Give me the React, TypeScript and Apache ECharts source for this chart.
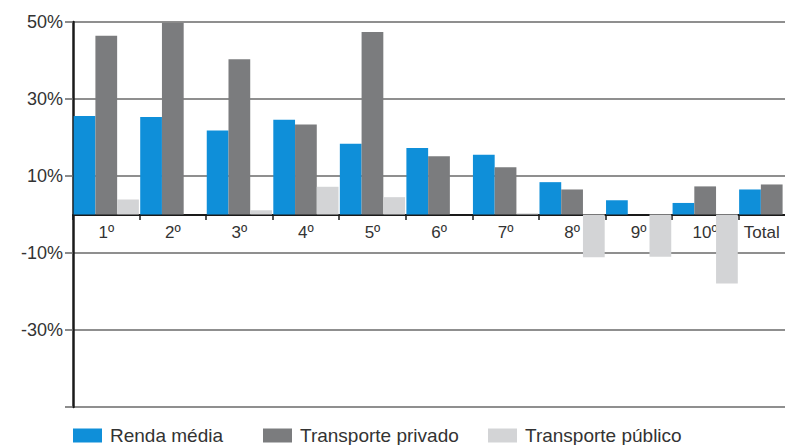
import React, { useEffect, useRef } from "react";
import * as echarts from "echarts";

const categories = ["1º", "2º", "3º", "4º", "5º", "6º", "7º", "8º", "9º", "10º", "Total"];
const rendaMedia = [25.6, 25.3, 21.8, 24.6, 18.4, 17.3, 15.5, 8.4, 3.7, 3.0, 6.5];
const transportePrivado = [46.4, 49.8, 40.3, 23.4, 47.4, 15.1, 12.3, 6.5, 0, 7.3, 7.8];
const transportePublico = [3.9, 0, 1.1, 7.2, 4.5, 0, 0.3, -11.1, -11.0, -17.9, 0];
const yTicks = [-50, -30, -10, 10, 30, 50];

const FONT = "Liberation Sans, Arial, Helvetica, sans-serif";

export default function App() {
  const ref = useRef<HTMLDivElement>(null);
  useEffect(() => {
    document.body.style.margin = "0";
    if (!ref.current) return;
    const chart = echarts.init(ref.current, undefined, { renderer: "svg" });
    const legendBase = {
      top: 426,
      padding: 0,
      itemWidth: 29,
      itemHeight: 14,
      icon: "rect",
      textStyle: { fontFamily: FONT, fontSize: 19, lineHeight: 18, color: "#333", padding: [0, 0, 0, 3] },
    };
    const catData = categories.map((c, i) =>
      i === categories.length - 1 ? { value: c, textStyle: { padding: [0, 20, 0, 0] } } : c
    );
    chart.setOption({
      animation: false,
      backgroundColor: "#ffffff",
      grid: { left: 73, right: 0, top: 22, bottom: 38, containLabel: false },
      legend: [
        { ...legendBase, left: 73, data: ["Renda média"] },
        { ...legendBase, left: 263, data: ["Transporte privado"] },
        { ...legendBase, left: 488, data: ["Transporte público"] },
      ],
      xAxis: {
        type: "category",
        data: catData,
        offset: -192,
        axisLine: { onZero: false, lineStyle: { color: "#1a1a1a", width: 2 } },
        axisTick: { show: true, length: 5, lineStyle: { color: "#1a1a1a", width: 1.5 } },
        axisLabel: { fontFamily: FONT, fontSize: 17, color: "#333", margin: 9 },
      },
      yAxis: {
        type: "value",
        min: yTicks[0],
        max: yTicks[yTicks.length - 1],
        interval: 20,
        axisLine: { show: true, lineStyle: { color: "#1a1a1a", width: 2.5 } },
        axisTick: { show: true, length: 8, lineStyle: { color: "#666", width: 1.5 } },
        axisLabel: {
          fontFamily: FONT,
          fontSize: 18,
          color: "#333",
          margin: 10,
          formatter: (v: number) => (v === yTicks[0] ? "" : v + "%"),
        },
        splitLine: { show: true, lineStyle: { color: "#6a6a6a", width: 1.5 } },
      },
      series: [
        {
          name: "Renda média",
          type: "bar",
          data: rendaMedia,
          itemStyle: { color: "#0f8fd9" },
          barGap: "0%",
          barCategoryGap: "2%",
        },
        {
          name: "Transporte privado",
          type: "bar",
          data: transportePrivado,
          itemStyle: { color: "#7b7c7e" },
          barGap: "0%",
          barCategoryGap: "2%",
        },
        {
          name: "Transporte público",
          type: "bar",
          data: transportePublico,
          itemStyle: { color: "#d3d4d6" },
          barGap: "0%",
          barCategoryGap: "2%",
        },
      ],
    });
    return () => chart.dispose();
  }, []);
  return (
    <div style={{ width: 785, height: 445, overflow: "hidden", position: "relative" }}>
      <div ref={ref} style={{ width: 805, height: 445 }} />
    </div>
  );
}
